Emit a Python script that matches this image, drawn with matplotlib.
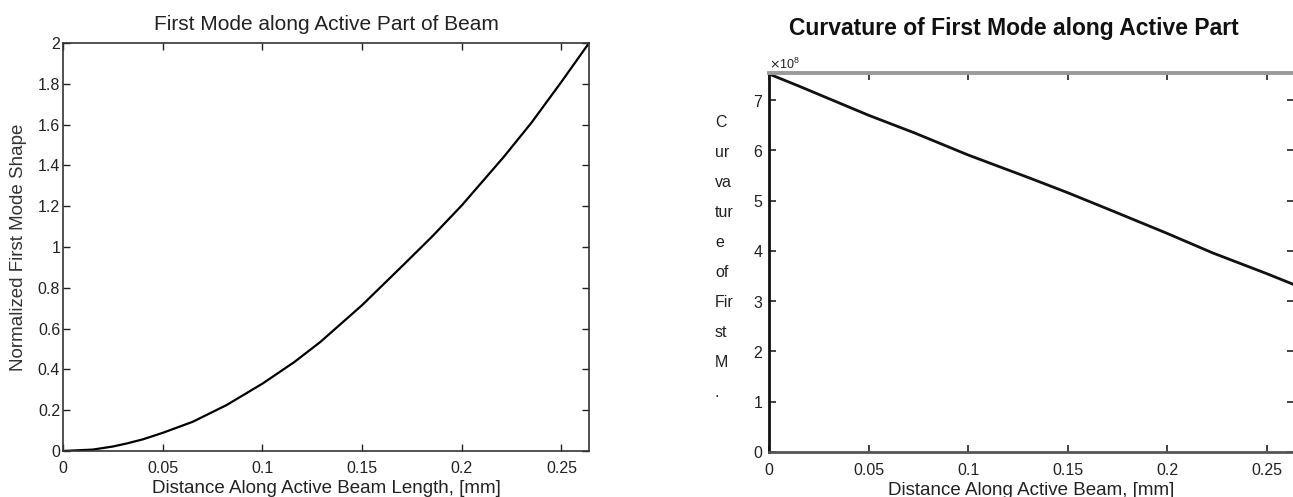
import numpy as np
import matplotlib
matplotlib.use('Agg')
import matplotlib.pyplot as plt
from matplotlib.ticker import ScalarFormatter

plt.rcParams['font.family'] = ['Liberation Sans', 'DejaVu Sans']

# First mode shape along the active part
dist_mode = [0, 0.015, 0.025, 0.032, 0.04, 0.05, 0.065, 0.082, 0.1, 0.116, 0.129,
             0.15, 0.171, 0.185, 0.2, 0.221, 0.235, 0.25, 0.2638]
mode_shape = [0, 0.007, 0.022, 0.037, 0.057, 0.089, 0.143, 0.225, 0.330, 0.436, 0.534,
              0.715, 0.915, 1.05, 1.204, 1.441, 1.61, 1.81, 2.0]

# Curvature of the first mode, in units of 1e8
dist_curv = [0, 0.015, 0.05, 0.073, 0.1, 0.131, 0.15, 0.173, 0.2, 0.223, 0.25, 0.2638]
curvature = [7.52, 7.28, 6.70, 6.35, 5.91, 5.45, 5.16, 4.79, 4.35, 3.96, 3.55, 3.33]
curv_scale = 1e8

x_ticks = [0, 0.05, 0.1, 0.15, 0.2, 0.25]
x_ticklabels = ['0', '0.05', '0.1', '0.15', '0.2', '0.25']
mode_yticks = [0, 0.2, 0.4, 0.6, 0.8, 1, 1.2, 1.4, 1.6, 1.8, 2]
mode_yticklabels = ['0', '0.2', '0.4', '0.6', '0.8', '1', '1.2', '1.4', '1.6', '1.8', '2']
curv_yticks = [0, 1, 2, 3, 4, 5, 6, 7]
ylabel_pieces = ['C', 'ur', 'va', 'tur', 'e', 'of', 'Fir', 'st', 'M', '.']

W, H = 1293, 497
fig = plt.figure(figsize=(W / 100, H / 100), dpi=100)

# ---- left: mode shape ----
ax1 = fig.add_axes([63 / W, 1 - 451 / H, (589 - 63) / W, (451 - 43) / H])
ax1.plot(dist_mode, mode_shape, color='black', lw=1.6)
ax1.set_xlim(0, 0.2638)
ax1.set_ylim(0, 2)
ax1.set_xticks(x_ticks)
ax1.set_xticklabels(x_ticklabels)
ax1.set_yticks(mode_yticks)
ax1.set_yticklabels(mode_yticklabels)
ax1.tick_params(direction='in', length=5, width=1, top=True, right=True,
                labelsize=11.5, colors='#222222')
ax1.tick_params(axis='x', pad=7)
ax1.tick_params(axis='y', pad=2)
for s in ax1.spines.values():
    s.set_color('#333333')
    s.set_linewidth(1.2)
ax1.set_title('First Mode along Active Part of Beam', fontsize=15, pad=9, color='#222222')
ax1.set_xlabel('Distance Along Active Beam Length, [mm]', fontsize=13.5, labelpad=3, color='#222222')
ax1.set_ylabel('Normalized First Mode Shape', fontsize=13.5, labelpad=8, color='#333333')

# ---- right: curvature ----
ax2 = fig.add_axes([769 / W, 1 - 452 / H, (1294 - 769) / W, (452 - 73) / H])
ax2.plot(dist_curv, np.array(curvature) * curv_scale, color='#111111', lw=2)
ax2.set_xlim(0, 0.2638)
ax2.set_ylim(0, 7.54 * curv_scale)
ax2.set_xticks(x_ticks)
ax2.set_xticklabels(x_ticklabels)
ax2.set_yticks(np.array(curv_yticks) * curv_scale)
fmt = ScalarFormatter(useMathText=True)
fmt.set_powerlimits((0, 0))
ax2.yaxis.set_major_formatter(fmt)
ax2.yaxis.get_offset_text().set_fontsize(9)
ax2.tick_params(direction='in', length=5, width=1.2, top=True, right=True,
                labelsize=11.5, colors='#222222')
ax2.tick_params(axis='x', pad=8)
ax2.tick_params(axis='y', pad=4)
for lab in ax2.get_xticklabels() + ax2.get_yticklabels():
    lab.set_family(['Liberation Sans Narrow', 'Liberation Sans'])
ax2.spines['top'].set_color('#9a9a9a')
ax2.spines['top'].set_linewidth(2.8)
ax2.spines['bottom'].set_color('#555555')
ax2.spines['bottom'].set_linewidth(2)
ax2.spines['left'].set_color('#111111')
ax2.spines['left'].set_linewidth(2)
ax2.spines['right'].set_color('#777777')
ax2.set_xlabel('Distance Along Active Beam, [mm]', fontsize=13.5, labelpad=3, color='#222222',
               family=['Liberation Sans Narrow', 'Liberation Sans'])

fig.text(1014 / W, 1 - 35 / H, 'Curvature of First Mode along Active Part',
         fontsize=16.5, fontweight='bold', ha='center', va='baseline', color='#111111')

# broken y-label, one fragment per line like the original
for i, piece in enumerate(ylabel_pieces):
    fig.text(715 / W, 1 - (127 + 30 * i) / H, piece, fontsize=11.5,
             ha='left', va='baseline', color='#222222')

fig.savefig('out.png', dpi=100)
